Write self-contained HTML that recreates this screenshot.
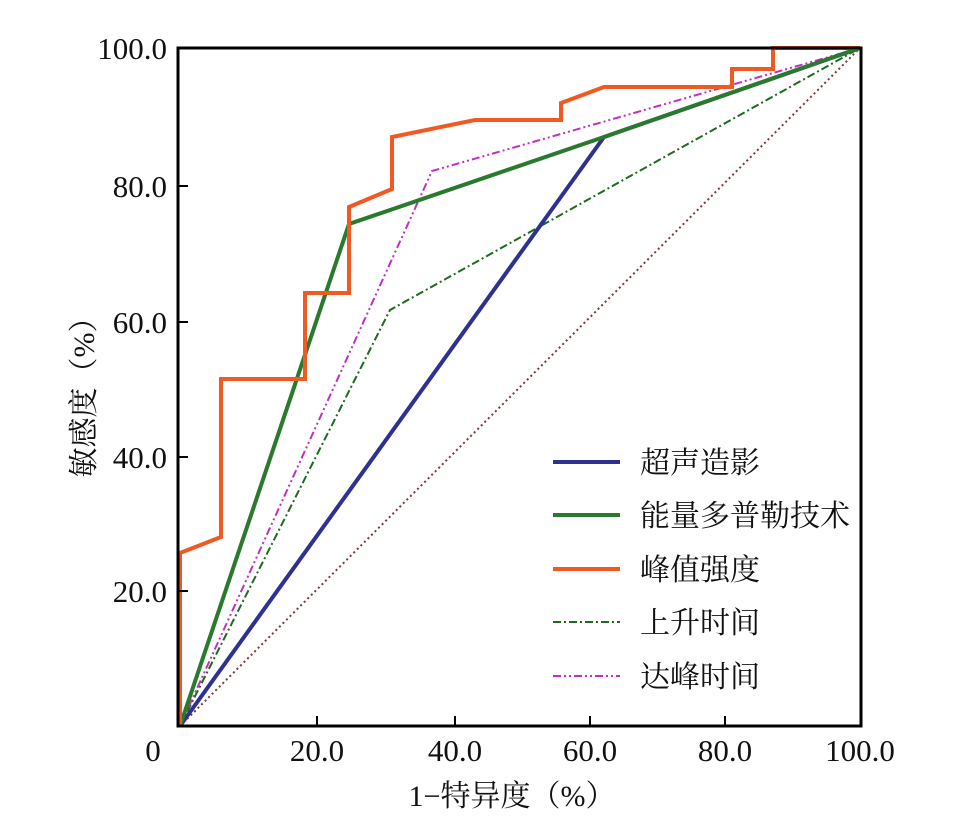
<!DOCTYPE html>
<html><head><meta charset="utf-8"><style>
body{margin:0;background:#fff;}
svg{display:block;}
text{font-family:"Liberation Serif","Noto Serif CJK SC",serif;fill:#111;}
.cjk{font-family:"Liberation Serif","Noto Serif CJK SC",serif;}
</style></head><body>
<svg width="959" height="822" viewBox="0 0 959 822" xmlns="http://www.w3.org/2000/svg">
<rect width="959" height="822" fill="#fff"/>
<polyline points="180,726 860,48" fill="none" stroke="#7a3a3a" stroke-width="2" stroke-dasharray="2,3"/>
<polyline points="180,726 390,310 860,48" fill="none" stroke="#1e6a1e" stroke-width="2" stroke-dasharray="8,3,2,3"/>
<polyline points="180,726 432,171 860,48" fill="none" stroke="#c030c0" stroke-width="2" stroke-dasharray="8,3,2,3,2,3"/>
<polyline points="180,726 604,137 860,48" fill="none" stroke="#2e3192" stroke-width="4"/>
<polyline points="180,726 349,224 604,137 860,48" fill="none" stroke="#2a7a2e" stroke-width="4"/>
<polyline points="180,726 180,553 221,537 221,379 305,379 305,293 349,293 349,207 392,189 392,137 475,120 561,120 561,103 604,87 732,87 732,69 773,69 773,48 860,48" fill="none" stroke="#f05a22" stroke-width="4"/>
<rect x="178" y="48" width="683" height="678" fill="none" stroke="#000" stroke-width="3"/>
<g stroke="#000" stroke-width="2">
<line x1="317" y1="726" x2="317" y2="716"/><line x1="455" y1="726" x2="455" y2="716"/>
<line x1="590" y1="726" x2="590" y2="716"/><line x1="725" y1="726" x2="725" y2="716"/>
<line x1="178" y1="186" x2="188" y2="186"/><line x1="178" y1="322" x2="188" y2="322"/>
<line x1="178" y1="457" x2="188" y2="457"/><line x1="178" y1="591" x2="188" y2="591"/>
</g>
<g font-size="31" text-anchor="end">
<text x="167" y="59">100.0</text><text x="167" y="197">80.0</text>
<text x="167" y="333">60.0</text><text x="167" y="468">40.0</text><text x="167" y="602">20.0</text>
</g>
<g font-size="31" text-anchor="middle">
<text x="153" y="761">0</text><text x="317" y="761">20.0</text><text x="455" y="761">40.0</text>
<text x="590" y="761">60.0</text><text x="725" y="761">80.0</text><text x="860" y="761">100.0</text>
</g>
<text x="512" y="806" font-size="30" text-anchor="middle" class="cjk">1−特异度（%）</text>
<text transform="translate(94,390) rotate(-90)" font-size="30" text-anchor="middle" class="cjk">敏感度（%）</text>
<line x1="553" y1="462" x2="620" y2="462" stroke="#2e3192" stroke-width="4"/>
<line x1="553" y1="515" x2="620" y2="515" stroke="#2a7a2e" stroke-width="4"/>
<line x1="553" y1="569" x2="620" y2="569" stroke="#f05a22" stroke-width="4"/>
<line x1="553" y1="622" x2="620" y2="622" stroke="#1e6a1e" stroke-width="2" stroke-dasharray="8,3,2,3"/>
<line x1="553" y1="676" x2="620" y2="676" stroke="#c030c0" stroke-width="2" stroke-dasharray="8,3,2,3,2,3"/>
<g font-size="30" class="cjk">
<text x="640" y="473">超声造影</text><text x="640" y="526">能量多普勒技术</text>
<text x="640" y="580">峰值强度</text><text x="640" y="633">上升时间</text><text x="640" y="687">达峰时间</text>
</g>
</svg>
</body></html>
